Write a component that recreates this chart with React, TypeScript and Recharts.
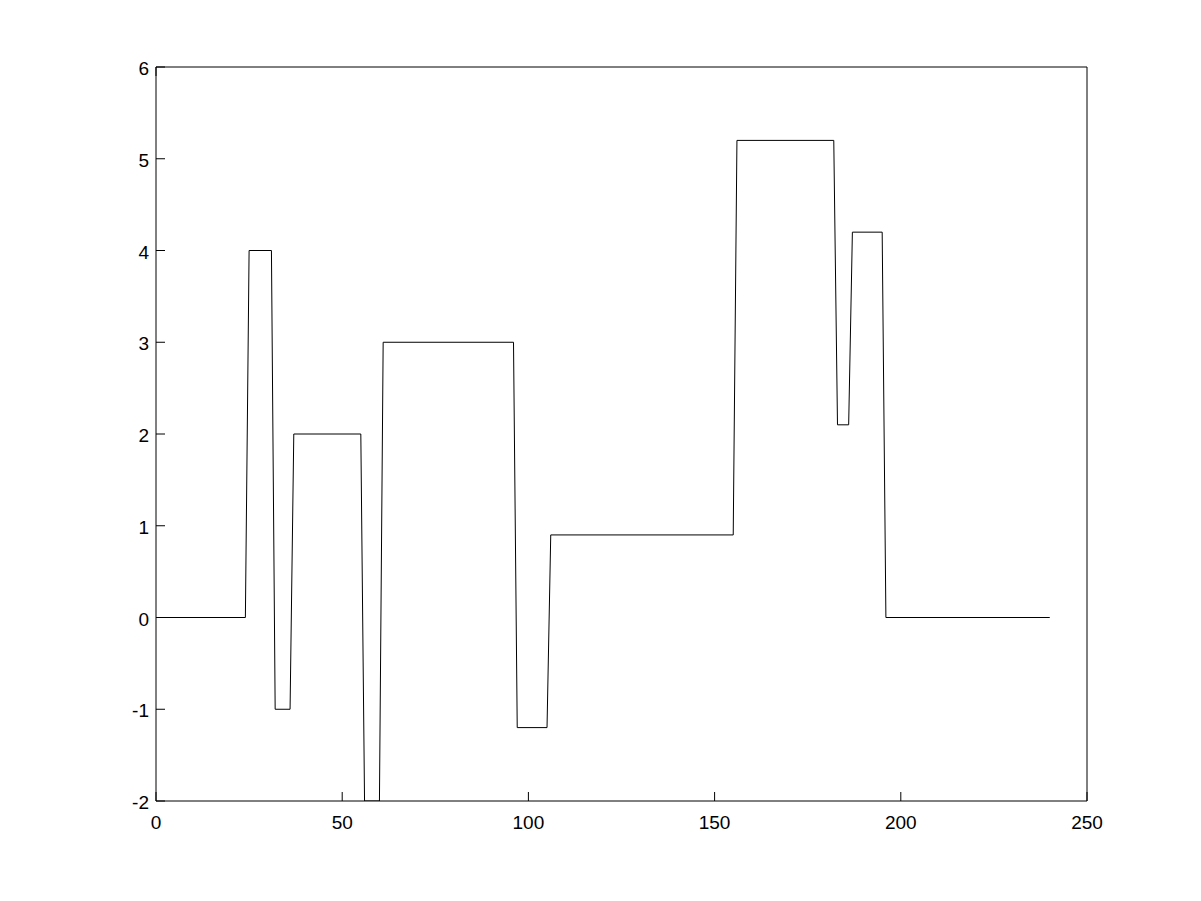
import { LineChart, Line, XAxis, YAxis } from 'recharts'

// corner points of the step signal
const xValues = [0, 24, 25, 31, 32, 36, 37, 55, 56, 60, 61, 96, 97, 105, 106, 155, 156, 182, 183, 186, 187, 195, 196, 240]
const yValues = [0, 0, 4, 4, -1, -1, 2, 2, -2, -2, 3, 3, -1.2, -1.2, 0.9, 0.9, 5.2, 5.2, 2.1, 2.1, 4.2, 4.2, 0, 0]

const xTicks = [0, 50, 100, 150, 200, 250]
const yTicks = [-2, -1, 0, 1, 2, 3, 4, 5, 6]

const data = xValues.map((x, i) => ({ x, y: yValues[i] }))

const FONT = '"Liberation Sans", Arial, sans-serif'
const TICK_LEN = 9

const BottomTick = (props: any) => {
  const { x, y, payload } = props
  return (
    <g>
      <line x1={x} y1={y} x2={x} y2={y - TICK_LEN} stroke="#000" />
      <text x={x} y={y + 28} textAnchor="middle" fontFamily={FONT} fontSize={19} fill="#000">
        {payload.value}
      </text>
    </g>
  )
}

const TopTick = (props: any) => {
  const { x, y } = props
  return <line x1={x} y1={y} x2={x} y2={y + TICK_LEN} stroke="#000" />
}

const LeftTick = (props: any) => {
  const { x, y, payload } = props
  return (
    <g>
      <line x1={x} y1={y} x2={x + TICK_LEN} y2={y} stroke="#000" />
      <text x={x - 7} y={y + 8} textAnchor="end" fontFamily={FONT} fontSize={19} fill="#000">
        {payload.value}
      </text>
    </g>
  )
}

const RightTick = (props: any) => {
  const { x, y } = props
  return <line x1={x} y1={y} x2={x - TICK_LEN} y2={y} stroke="#000" />
}

export default function App() {
  return (
    <div style={{ position: 'absolute', left: 0, top: 0, width: 1201, height: 901, background: '#fff' }}>
      <LineChart width={1201} height={901} data={data} margin={{ top: 57, right: 104, bottom: 60, left: 96 }}>
        <XAxis dataKey="x" type="number" domain={[0, 250]} ticks={xTicks} tickSize={0} tickMargin={0}
          tickLine={false} axisLine={{ stroke: '#000' }} tick={<BottomTick />} height={40} interval={0} />
        <XAxis xAxisId="top" orientation="top" type="number" domain={[0, 250]} ticks={xTicks} tickSize={0}
          tickMargin={0} tickLine={false} axisLine={{ stroke: '#000' }} tick={<TopTick />} height={10} interval={0} />
        <YAxis type="number" domain={[-2, 6]} ticks={yTicks} allowDataOverflow tickSize={0} tickMargin={0}
          tickLine={false} axisLine={{ stroke: '#000' }} tick={<LeftTick />} width={60} interval={0} />
        <YAxis yAxisId="right" orientation="right" type="number" domain={[-2, 6]} ticks={yTicks} tickSize={0}
          tickMargin={0} tickLine={false} axisLine={{ stroke: '#000' }} tick={<RightTick />} width={10} interval={0} />
        <Line type="linear" dataKey="y" stroke="#000" strokeWidth={1} dot={false} activeDot={false}
          isAnimationActive={false} />
      </LineChart>
    </div>
  )
}
